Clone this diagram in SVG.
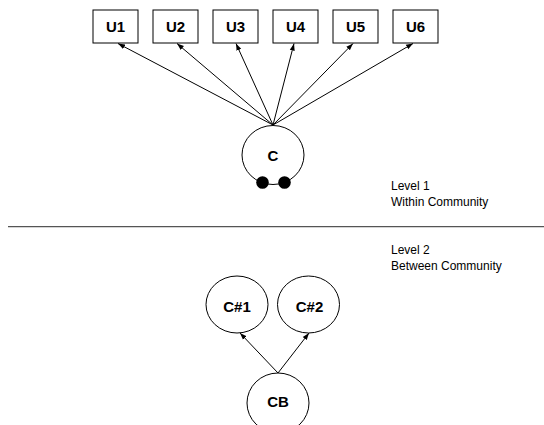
<svg xmlns="http://www.w3.org/2000/svg" width="544" height="425" viewBox="0 0 544 425">
<style>
.box{fill:#fff;stroke:#000;stroke-width:1}
.ell{fill:#fff;stroke:#000;stroke-width:1}
.lbl{font-family:"Liberation Sans",Arial,sans-serif;font-weight:bold;font-size:15px;text-anchor:middle;fill:#000}
.note{font-family:"Liberation Sans",Arial,sans-serif;font-size:12px;fill:#000}
.edge{stroke:#000;stroke-width:1;fill:none;marker-end:url(#arr)}
.dot{fill:#000}
</style>
<defs>
<marker id="arr" markerUnits="userSpaceOnUse" markerWidth="7" markerHeight="6" refX="7" refY="3" orient="auto">
<path d="M0,0.5 L7,3 L0,5.5 z" fill="#000"/>
</marker>
</defs>
<rect width="544" height="425" fill="#fff"/>
<g id="connectors">
<line class="edge" x1="273" y1="125" x2="118" y2="43.5"/>
<line class="edge" x1="273" y1="125" x2="177" y2="43.5"/>
<line class="edge" x1="273" y1="125" x2="236" y2="43.5"/>
<line class="edge" x1="273" y1="125" x2="294" y2="43.5"/>
<line class="edge" x1="273" y1="125" x2="353" y2="43.5"/>
<line class="edge" x1="273" y1="125" x2="413" y2="43.5"/>
<line class="edge" x1="278" y1="373" x2="240" y2="333"/>
<line class="edge" x1="278" y1="373" x2="309" y2="333"/>
</g>
<g id="U1"><rect class="box" x="93" y="10" width="45" height="33"/><text class="lbl" x="115.5" y="31.5">U1</text></g>
<g id="U2"><rect class="box" x="153" y="10" width="45" height="33"/><text class="lbl" x="175.5" y="31.5">U2</text></g>
<g id="U3"><rect class="box" x="213" y="10" width="45" height="33"/><text class="lbl" x="235.5" y="31.5">U3</text></g>
<g id="U4"><rect class="box" x="273" y="10" width="45" height="33"/><text class="lbl" x="295.5" y="31.5">U4</text></g>
<g id="U5"><rect class="box" x="333" y="10" width="45" height="33"/><text class="lbl" x="355.5" y="31.5">U5</text></g>
<g id="U6"><rect class="box" x="393" y="10" width="45" height="33"/><text class="lbl" x="415.5" y="31.5">U6</text></g>
<g id="C">
<ellipse class="ell" cx="273" cy="155" rx="31" ry="29.5"/>
<text class="lbl" x="273" y="160.5">C</text>
<circle class="dot" cx="262.5" cy="182.5" r="6.3"/>
<circle class="dot" cx="284.5" cy="182.5" r="6.3"/>
</g>
<g id="level-notes">
<text class="note" x="391" y="190">Level 1</text>
<text class="note" x="391" y="205.5">Within Community</text>
<line x1="8" y1="226.7" x2="544" y2="226.7" stroke="#555" stroke-width="1.3"/>
<text class="note" x="391" y="254">Level 2</text>
<text class="note" x="391" y="270">Between Community</text>
</g>
<g id="C1"><ellipse class="ell" cx="237" cy="304.5" rx="31" ry="28.5"/><text class="lbl" x="237" y="312">C#1</text></g>
<g id="C2"><ellipse class="ell" cx="308.5" cy="304.5" rx="31" ry="28.5"/><text class="lbl" x="309.5" y="312">C#2</text></g>
<g id="CB"><ellipse class="ell" cx="278" cy="403" rx="31" ry="30"/><text class="lbl" x="278" y="406.5">CB</text></g>
</svg>
